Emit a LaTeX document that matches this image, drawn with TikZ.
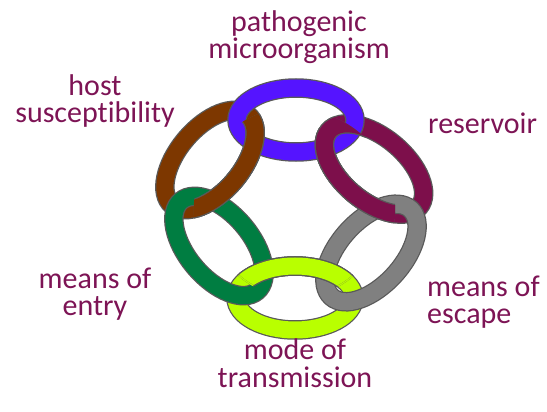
\documentclass[tikz,border=0pt]{standalone}
\usepackage{fontspec}
\setmainfont{Carlito}[Ligatures=NoCommon,Contextuals=NoAlternate]
\usetikzlibrary{calc,intersections}

\definecolor{labelplum}{RGB}{125,20,85}
\definecolor{ringblue}{RGB}{85,20,255}
\definecolor{ringbrown}{RGB}{125,55,0}
\definecolor{ringmaroon}{RGB}{125,15,75}
\definecolor{ringgray}{RGB}{128,128,128}
\definecolor{ringlime}{RGB}{185,255,0}
\definecolor{ringgreen}{RGB}{0,125,65}

\tikzset{
  tag/.style={text=labelplum,font=\fontsize{30}{27.5}\selectfont,align=center,inner sep=0pt},
  rim/.style={line width=19.5pt,draw=black!65},
  band/.style={line width=17pt,draw=#1},
}

\begin{document}
\begin{tikzpicture}[x=1pt,y=1pt]
\def\ra{59}
\def\rb{32}
\useasboundingbox (0,0) rectangle (547,-412);
\coordinate (mid) at (296,-209);
\coordinate (cblue) at (296,-120);
\coordinate (cmaroon) at (374,-169);
\coordinate (cgray) at (371,-253);
\coordinate (clime) at (295,-298);
\coordinate (cgreen) at (219,-246);
\coordinate (cbrown) at (210,-160);

% links that lie under at the outer crossings first
\foreach \name/\tilt in {brown/50,maroon/-40,lime/0,blue/0,gray/48,green/-50}{
  \draw[rim,shift={(c\name)},rotate=\tilt] (0,0) ellipse [x radius=\ra,y radius=\rb];
  \draw[band=ring\name,name path global=\name,shift={(c\name)},rotate=\tilt] (0,0) ellipse [x radius=\ra,y radius=\rb];
}

% inner crossings: put the other link back on top
\foreach \lo/\tilt/\hi in {brown/50/blue,maroon/-40/blue,maroon/-40/gray,lime/0/gray,lime/0/green,brown/50/green}{
  \begin{scope}
    \clip[name intersections/.expanded={of=\lo\space and \hi,name=hit}]
      let \p1=($(hit-1)-(mid)$),\p2=($(hit-2)-(mid)$),
          \n1={(veclen(\x1,\y1)+veclen(\x2,\y2))/2} in
      (mid) circle [radius=\n1];
    \draw[rim,shift={(c\lo)},rotate=\tilt] (0,0) ellipse [x radius=\ra,y radius=\rb];
    \draw[band=ring\lo,shift={(c\lo)},rotate=\tilt] (0,0) ellipse [x radius=\ra,y radius=\rb];
  \end{scope}
}

\node[tag] (pathogen) at (299,-37) {pathogenic\\microorganism};
\node[tag] (host) at (95,-101) {host\\susceptibility};
\node[tag,anchor=base west] (reservoir) at (428,-134) {reservoir};
\node[tag] (entry) at (95,-294) {means of\\entry};
\node[tag,align=left,anchor=west] (escape) at (427,-302) {means of\\escape};
\node[tag] (transmission) at (295,-363) {mode of\\transmission};
\end{tikzpicture}
\end{document}
